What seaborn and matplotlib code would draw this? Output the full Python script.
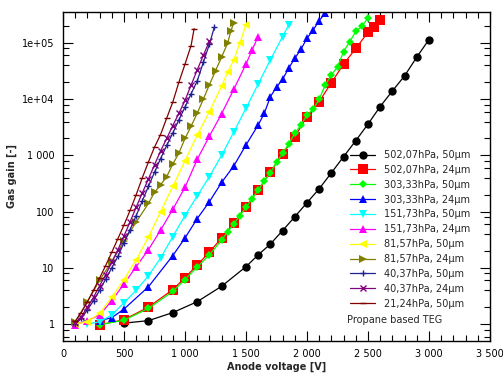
import matplotlib
matplotlib.use("Agg")
import matplotlib.pyplot as plt
import seaborn as sns
import pandas as pd
from matplotlib.ticker import FixedLocator, FixedFormatter, MultipleLocator, NullFormatter

# ---------------- data ----------------
labels = ["502,07hPa, 50µm", "502,07hPa, 24µm", "303,33hPa, 50µm", "303,33hPa, 24µm",
          "151,73hPa, 50µm", "151,73hPa, 24µm", "81,57hPa, 50µm", "81,57hPa, 24µm",
          "40,37hPa, 50µm", "40,37hPa, 24µm", "21,24hPa, 50µm"]

V_502_50 = [500, 700, 900, 1100, 1300, 1500, 1600, 1700, 1800, 1900, 2000, 2100, 2200, 2300,
            2400, 2500, 2600, 2700, 2800, 2900, 3000]
G_502_50 = [1.04, 1.15, 1.6, 2.5, 4.7, 10.5, 17, 26.5, 46, 81, 144, 255, 490, 950,
            1830, 3600, 7400, 14000, 26000, 56000, 115000]

V_502_24 = [300, 500, 700, 900, 1000, 1100, 1200, 1300, 1400, 1500, 1600, 1700, 1800, 1900,
            2000, 2100, 2200, 2300, 2400, 2500, 2550, 2600]
G_502_24 = [0.97, 1.2, 2.0, 4.1, 6.7, 11.2, 19, 34, 62, 122, 242, 510, 1060, 2150,
            4900, 9000, 19700, 42000, 80000, 155000, 195000, 257000]

V_303_50 = [300, 500, 700, 900, 1000, 1100, 1200, 1300, 1350, 1400, 1450, 1500, 1550, 1600,
            1650, 1700, 1750, 1800, 1850, 1900, 1950, 2000, 2050, 2100, 2150, 2200, 2250,
            2300, 2350, 2400, 2450, 2500]
G_303_50 = [0.97, 1.17, 1.9, 3.8, 6.2, 10.3, 17, 31, 44, 60, 85, 119, 170, 242,
            350, 490, 750, 1090, 1600, 2460, 3460, 5200, 6600, 10000, 18000, 27000, 37700,
            70000, 105000, 160000, 200000, 275000]

V_303_24 = [300, 400, 500, 700, 900, 1000, 1100, 1200, 1300, 1400, 1500, 1600, 1650, 1700,
            1750, 1800, 1850, 1900, 1950, 2000, 2050, 2100, 2150]
G_303_24 = [1.15, 1.3, 1.85, 4.6, 16.5, 34, 75, 150, 330, 650, 1530, 3480, 5600, 11100,
            16300, 22600, 35600, 53400, 77000, 121000, 169000, 250000, 338000]

V_151_50 = [200, 300, 400, 500, 600, 700, 800, 900, 1000, 1100, 1200, 1300, 1400, 1500,
            1600, 1700, 1800, 1850]
G_151_50 = [1.0, 1.1, 1.45, 2.4, 4.0, 7.2, 15, 36, 85, 190, 420, 1000, 2600, 6900,
            18600, 50000, 130000, 210000]

V_151_24 = [100, 200, 300, 400, 500, 600, 700, 800, 900, 1000, 1100, 1200, 1300, 1400,
            1500, 1550, 1600]
G_151_24 = [0.98, 1.15, 1.45, 2.6, 5.2, 10.5, 21, 47, 110, 270, 850, 2200, 5500, 15000,
            42000, 75000, 130000]

V_81_50 = [100, 200, 300, 400, 500, 600, 700, 800, 900, 1000, 1100, 1200, 1300, 1350,
           1400, 1450, 1500]
G_81_50 = [1.0, 1.1, 1.55, 3.0, 6.2, 14, 35, 100, 280, 800, 2300, 6000, 17000, 30000,
           50000, 100000, 210000]

V_81_24 = [100, 200, 300, 400, 500, 600, 700, 750, 800, 850, 900, 950, 1000, 1050, 1100,
           1150, 1200, 1250, 1300, 1350, 1375, 1400]
G_81_24 = [1.1, 2.5, 6, 13, 30, 65, 140, 220, 300, 420, 700, 1100, 2000, 3300, 5600,
           10000, 18000, 32000, 56000, 100000, 160000, 230000]

V_40_50 = [100, 150, 200, 250, 300, 350, 400, 450, 500, 550, 600, 650, 700, 750, 800, 850,
           900, 950, 1000, 1050, 1100, 1150, 1200, 1240]
G_40_50 = [1.0, 1.26, 1.8, 2.6, 4.0, 6.3, 10, 16, 28, 48, 85, 155, 280, 500, 880, 1500,
           2500, 4300, 7200, 12500, 21000, 45000, 95000, 190000]

V_40_24 = [100, 150, 200, 250, 300, 350, 400, 450, 500, 550, 600, 650, 700, 750, 800, 850,
           900, 950, 1000, 1050, 1100, 1150, 1200]
G_40_24 = [1.05, 1.35, 2.0, 3.0, 4.8, 7.6, 12.6, 21, 37, 66, 120, 215, 380, 680, 1200, 2000,
           3400, 5600, 9500, 17800, 33000, 60000, 107000]

V_21_50 = [100, 150, 200, 250, 300, 350, 400, 450, 500, 550, 600, 650, 700, 750, 800, 850,
           900, 950, 1000, 1050, 1075]
G_21_50 = [1.12, 1.6, 2.5, 4.0, 6.6, 11, 19, 33, 58, 105, 200, 400, 760, 1400, 2350, 4600,
           8900, 20000, 42000, 90000, 180000]

x_ticks = [0, 500, 1000, 1500, 2000, 2500, 3000, 3500]
x_ticklabels = ["0", "500", "1 000", "1 500", "2 000", "2 500", "3 000", "3 500"]
y_ticks = [1, 10, 100, 1000, 1e4, 1e5]
y_ticklabels = ["1", "10", "100", "1 000", "1e+04", "1e+05"]

series = [(V_502_50, G_502_50), (V_502_24, G_502_24), (V_303_50, G_303_50),
          (V_303_24, G_303_24), (V_151_50, G_151_50), (V_151_24, G_151_24),
          (V_81_50, G_81_50), (V_81_24, G_81_24), (V_40_50, G_40_50),
          (V_40_24, G_40_24), (V_21_50, G_21_50)]

# ---------------- styles ----------------
colors = ["#000000", "#ff0000", "#00ff00", "#0000ff", "#00ffff", "#ff00ff",
          "#ffff00", "#808000", "#202090", "#800080", "#800000"]
markers = ["o", "s", "D", "^", "v", "^", "<", ">", "+", "x", "_"]
msizes = [6, 6.5, 4.2, 6, 6, 6, 6, 6, 5, 4.5, 5]
filled = [True, True, True, True, True, True, True, True, False, False, False]

sns.set_theme(style="white")
plt.rcParams['font.family'] = ['DejaVu Sans']
plt.rcParams['font.size'] = 7

fig = plt.figure(figsize=(5.03, 3.84), dpi=100)
ax = fig.add_axes([63 / 503, 1 - 341 / 384, 427 / 503, 329 / 384])

for (V, G), lab, c, m, ms, f in zip(series, labels, colors, markers, msizes, filled):
    df = pd.DataFrame({"V": V, "G": G})
    sns.lineplot(data=df, x="V", y="G", ax=ax, color=c, marker=m, markersize=ms,
                 markeredgecolor=c, markeredgewidth=(0 if f else 1.0), linewidth=0.9,
                 label=lab, sort=False, estimator=None)

ax.set_yscale("log")
ax.set_xlim(0, 3500)
ax.set_ylim(0.5, 3.55e5)

ax.xaxis.set_major_locator(FixedLocator(x_ticks))
ax.xaxis.set_major_formatter(FixedFormatter(x_ticklabels))
ax.xaxis.set_minor_locator(MultipleLocator(100))
ax.yaxis.set_major_locator(FixedLocator(y_ticks))
ax.yaxis.set_major_formatter(FixedFormatter(y_ticklabels))
minors = [k * 10.0 ** e for e in range(-1, 6) for k in (2, 4, 6, 8)]
ax.yaxis.set_minor_locator(FixedLocator(minors))
ax.yaxis.set_minor_formatter(NullFormatter())

ax.tick_params(which="both", direction="in", top=True, right=True, bottom=True, left=True,
               colors="black", labelsize=7)
ax.tick_params(which="major", length=7, width=0.8, pad=6)
ax.tick_params(which="minor", length=4, width=0.8)
for s in ax.spines.values():
    s.set_color("black")
    s.set_linewidth(1)

ax.set_xlabel("Anode voltage [V]", fontsize=7, fontweight="bold", labelpad=2)
ax.set_ylabel("Gas gain [-]", fontsize=7, fontweight="bold", labelpad=4)

leg = ax.legend(loc="upper left", bbox_to_anchor=((350 - 63) / 427, 1 - (150 - 12) / 329),
                frameon=False, fontsize=7, handlelength=2.6, handletextpad=0.9,
                labelspacing=0.5, borderpad=0, borderaxespad=0)
ax.text((347 - 63) / 427, 1 - (320 - 12) / 329, "Propane based TEG", transform=ax.transAxes,
        fontsize=7, va="center", ha="left")

fig.savefig("out.png", dpi=100, facecolor="white")
